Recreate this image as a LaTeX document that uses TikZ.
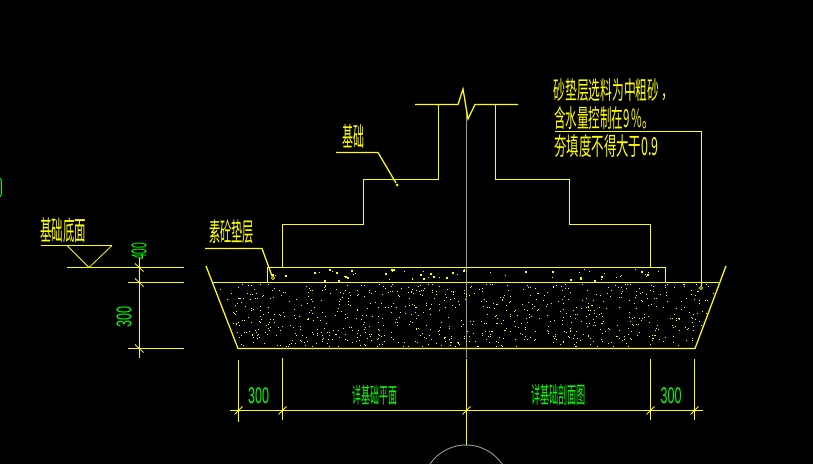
\documentclass[tikz,border=0pt]{standalone}
\usepackage{graphicx}
\usepackage{fontspec}
\setmainfont{Liberation Sans}
\newfontfamily\cadcjk{Noto Sans CJK SC}
\definecolor{cady}{RGB}{255,255,0}
\definecolor{cadg}{RGB}{0,255,0}
\definecolor{cadgray}{RGB}{150,150,150}
\newcommand{\cadtxt}[3]{\resizebox*{#1bp}{#2bp}{\cadcjk #3}}
\tikzset{
  x=1bp,y=-1bp,
  cadline/.style={draw=cady,line width=1.25bp},
  thinline/.style={draw=cady,line width=0.8bp},
  centerline/.style={draw=cadgray,line width=1.1bp},
  ylab/.style={text=cady,inner sep=0pt},
  glab/.style={text=cadg,inner sep=0pt},
}
\begin{document}
\begin{tikzpicture}
\useasboundingbox (0,0) rectangle (813,464);
\fill[black] (0,0) rectangle (813,464);
% partial glyph at left edge
\draw[draw=cadg,line width=0.8bp] (0,178) -- (1.5,181) -- (1.5,194) -- (0,197);
% centre line and circle
\draw[centerline] (466.5,110) -- (466.5,358);
\draw[centerline,line width=0.9bp] (430,464) arc[start angle=214.3,end angle=325.7,x radius=43.6,y radius=43.6];
% sand dots
\pgfmathsetseed{4172}
\foreach \i in {1,...,820}{
  \pgfmathsetmacro{\py}{int(284+rnd*63)}
  \pgfmathsetmacro{\off}{(\py-282)*25/66}
  \pgfmathsetmacro{\px}{int(215+\off+rnd*(503-2*\off))}
  \fill[cady] (\px,\py) rectangle ++(1,1);
}
% lean-layer dots
\foreach \i in {1,...,62}{
  \pgfmathsetmacro{\py}{int(269+rnd*12)}
  \pgfmathsetmacro{\px}{int(272+rnd*388)}
  \pgfmathsetmacro{\ps}{1+int(rnd*2)}
  \fill[cady] (\px,\py) rectangle ++(\ps,\ps);
}
% foundation
\draw[cadline] (282.5,267) -- (282.5,224.5) -- (363.5,224.5) -- (363.5,179.5) -- (438.5,179.5) -- (438.5,104.5);
\draw[cadline] (415,104.5) -- (458,104.5) -- (463,89) -- (468,119) -- (475,104.5) -- (518,104.5);
\draw[cadline] (495.5,104.5) -- (495.5,179.5) -- (569.5,179.5) -- (569.5,224.5) -- (650.5,224.5) -- (650.5,267);
% lean layer
\draw[cadline] (267.5,282) -- (267.5,267.5) -- (665.5,267.5) -- (665.5,282);
% sand
\draw[cadline] (206,266) -- (238,348.5) -- (695,348.5) -- (726,266);
\draw[cadline] (212.5,282.5) -- (720,282.5);
% leaders
\draw[cadline] (336,152.5) -- (378,152.5) -- (396,183);
\fill[cady] (397,185) circle (1.5);
\draw[cadline] (205,248.5) -- (262,248.5) -- (272,276);
\draw[thinline] (273,278) circle (1.6);
\draw[cadline] (555,131.5) -- (701.5,131.5) -- (701.5,286);
\draw[thinline] (701,288) circle (1.6);
% left level marks
\draw[cadline] (41,245.5) -- (112,245.5);
\draw[thinline] (67,245.5) -- (89,267.5) -- (112,245.5);
\draw[cadline] (67,267.5) -- (184,267.5);
\draw[cadline] (128,282.5) -- (184,282.5);
\draw[cadline] (128,348.5) -- (184,348.5);
\draw[cadline] (139.5,258) -- (139.5,358);
\foreach \ty in {267.5,282.5,348.5}
  \draw[thinline] (135,\ty-4) -- (143.5,\ty+4);
% bottom dimensions
\draw[cadline] (230,410.5) -- (703,410.5);
\draw[cadline] (238.5,360) -- (238.5,422);
\draw[cadline] (282.5,358) -- (282.5,420);
\draw[cadline] (466.5,359) -- (466.5,445);
\draw[cadline] (650.5,359) -- (650.5,420);
\draw[cadline] (694.5,359) -- (694.5,420);
\foreach \tx in {238.5,282.5,466.5,650.5,694.5}
  \draw[thinline] (\tx-4,414.5) -- (\tx+4,406.5);
% labels
\node[ylab] (tjcdm) at (63,230) {\cadtxt{46}{25}{基础底面}};
\node[ylab] (tjc) at (353,136) {\cadtxt{22}{24}{基础}};
\node[ylab] (tsu) at (231.5,231.5) {\cadtxt{45}{24}{素砼垫层}};
\node[ylab] (tl1) at (606.5,90) {\cadtxt{106}{23}{砂垫层选料为中粗砂}};
\node[ylab] (tl1c) at (664.5,97) {\cadtxt{4}{7}{,}};
\node[ylab] (tl2) at (604,118.5) {\cadtxt{100}{23}{含水量控制在9\,\%。}};
\node[ylab] (tl3) at (606.5,146.5) {\cadtxt{104}{23}{夯填度不得大于0.9}};
\node[glab,rotate=90] (td400) at (139,251.5) {\resizebox*{17bp}{15bp}{400}};
\node[glab,rotate=90] (td300) at (124,317) {\resizebox*{21bp}{15bp}{300}};
\node[glab] (tb1) at (258.5,396) {\resizebox*{21bp}{16bp}{300}};
\node[glab] (tb2) at (671,396) {\resizebox*{21bp}{16bp}{300}};
\node[glab] (tb3) at (374.5,395.5) {\cadtxt{45}{20}{详基础平面}};
\node[glab] (tb4) at (558.5,395) {\cadtxt{55}{21}{详基础剖面图}};
\end{tikzpicture}
\end{document}
